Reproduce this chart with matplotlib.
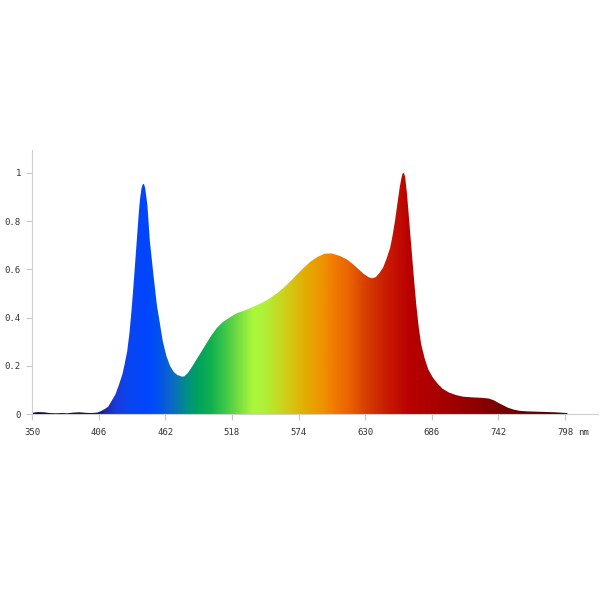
import numpy as np
import matplotlib
matplotlib.use("Agg")
import matplotlib.pyplot as plt
from matplotlib.colors import LinearSegmentedColormap
from matplotlib.transforms import offset_copy

# spectrum (nm, relative intensity)
wavelength = [350, 355, 360, 365, 370, 375, 380, 385, 390, 395, 400, 405, 408, 411,
              414, 417, 420, 423, 426, 428, 430, 432, 434, 436, 438, 440, 441, 442,
              443, 444, 445, 446, 447, 449, 452, 455, 458, 460, 463, 466, 469, 472,
              476, 478, 481, 485, 490, 495, 500, 505, 510, 516, 522, 530, 536, 543,
              550, 557, 564, 571, 578, 584, 590, 596, 602, 609, 615, 620, 625, 629,
              633, 636, 639, 642, 645, 648, 651, 653, 655, 657, 659, 660.5, 661.5, 662.5,
              663.5, 665, 667, 669, 671, 673, 675, 677, 680, 683, 687, 691, 695, 700,
              706, 712, 720, 728, 734, 738, 742, 746, 750, 755, 760, 766, 772, 778,
              784, 790, 796, 800]
intensity = [0.005, 0.008, 0.007, 0.004, 0.003, 0.004, 0.003, 0.006, 0.007, 0.005, 0.004,
             0.006, 0.012, 0.02, 0.03, 0.055, 0.08, 0.12, 0.165, 0.21, 0.26, 0.34, 0.45,
             0.58, 0.715, 0.85, 0.90, 0.935, 0.952, 0.955, 0.94, 0.905, 0.865, 0.72,
             0.58, 0.45, 0.36, 0.30, 0.24, 0.20, 0.175, 0.162, 0.155, 0.156, 0.17, 0.20,
             0.24, 0.28, 0.32, 0.355, 0.38, 0.40, 0.418, 0.432, 0.445, 0.46, 0.48, 0.505,
             0.535, 0.57, 0.605, 0.632, 0.652, 0.665, 0.666, 0.655, 0.64, 0.62, 0.598,
             0.58, 0.567, 0.563, 0.568, 0.585, 0.607, 0.645, 0.69, 0.74, 0.80, 0.87,
             0.94, 0.98, 0.998, 1.0, 0.985, 0.92, 0.80, 0.68, 0.56, 0.45, 0.36, 0.29,
             0.23, 0.185, 0.15, 0.125, 0.105, 0.09, 0.079, 0.072, 0.069, 0.067, 0.064,
             0.057, 0.046, 0.036, 0.026, 0.018, 0.013, 0.011, 0.01, 0.009, 0.008,
             0.007, 0.005, 0.004]

x_ticks = [350, 406, 462, 518, 574, 630, 686, 742, 798]
y_ticks = [0, 0.2, 0.4, 0.6, 0.8, 1]
y_labels = ["0", "0.2", "0.4", "0.6", "0.8", "1"]

# approximate colour of each wavelength as rendered in the reference
color_stops = [
    (350, "#0b0b2e"), (395, "#101040"), (405, "#141470"), (412, "#1e2ab0"),
    (420, "#1a3ad8"), (430, "#0a45f0"), (445, "#0045ff"), (455, "#0050f0"),
    (462, "#0a5ed8"), (470, "#0a70b8"), (478, "#008c8c"), (488, "#00a060"),
    (500, "#10b050"), (512, "#40c848"), (525, "#80e040"), (535, "#a8f83c"),
    (545, "#b0f038"), (558, "#c8d820"), (570, "#d8c010"), (582, "#e4a800"),
    (595, "#f09000"), (605, "#f07800"), (618, "#e86000"), (630, "#d84000"),
    (642, "#cc2800"), (655, "#c41000"), (668, "#b80000"), (690, "#aa0000"),
    (720, "#920000"), (750, "#720000"), (800, "#420000"),
]

lo, hi = color_stops[0][0], color_stops[-1][0]
cmap = LinearSegmentedColormap.from_list(
    "spectrum", [((w - lo) / (hi - lo), c) for w, c in color_stops])

fig = plt.figure(figsize=(6, 6), dpi=100)
ax = fig.add_axes([0.0533, 0.31, 0.9437, 0.44])

poly = ax.fill_between(wavelength, intensity, 0, color="none", lw=0)
grad = np.linspace(lo, hi, 900).reshape(1, -1)
img = ax.imshow(grad, extent=[lo, hi, 0, 1.1], aspect="auto", cmap=cmap,
                vmin=lo, vmax=hi, origin="lower", interpolation="bilinear")
img.set_clip_path(poly.get_paths()[0], transform=ax.transData)

ax.set_xlim(350, 825.8)
ax.set_ylim(0, 1.095)

for s in ["top", "right"]:
    ax.spines[s].set_visible(False)
for s in ["left", "bottom"]:
    ax.spines[s].set_color("#d0d0d0")
    ax.spines[s].set_linewidth(0.8)

ax.set_xticks(x_ticks)
ax.set_xticklabels([str(t) for t in x_ticks])
ax.set_yticks(y_ticks)
ax.set_yticklabels(y_labels)
ax.tick_params(colors="#c8c8c8", labelcolor="#333333", length=4, width=0.8,
               labelsize=6.5, pad=4)
ax.tick_params(axis="x", pad=6)
for lab in ax.get_xticklabels() + ax.get_yticklabels():
    lab.set_family("DejaVu Sans Mono")

# unit label sits right after the last tick label
nm_tr = offset_copy(ax.get_xaxis_transform(), fig=fig, x=0, y=-10, units="points")
ax.text(809, 0, "nm", fontsize=6.5, family="DejaVu Sans Mono", color="#333333",
        ha="left", va="top", transform=nm_tr, clip_on=False)

fig.savefig("out.png", dpi=100, facecolor="white")
